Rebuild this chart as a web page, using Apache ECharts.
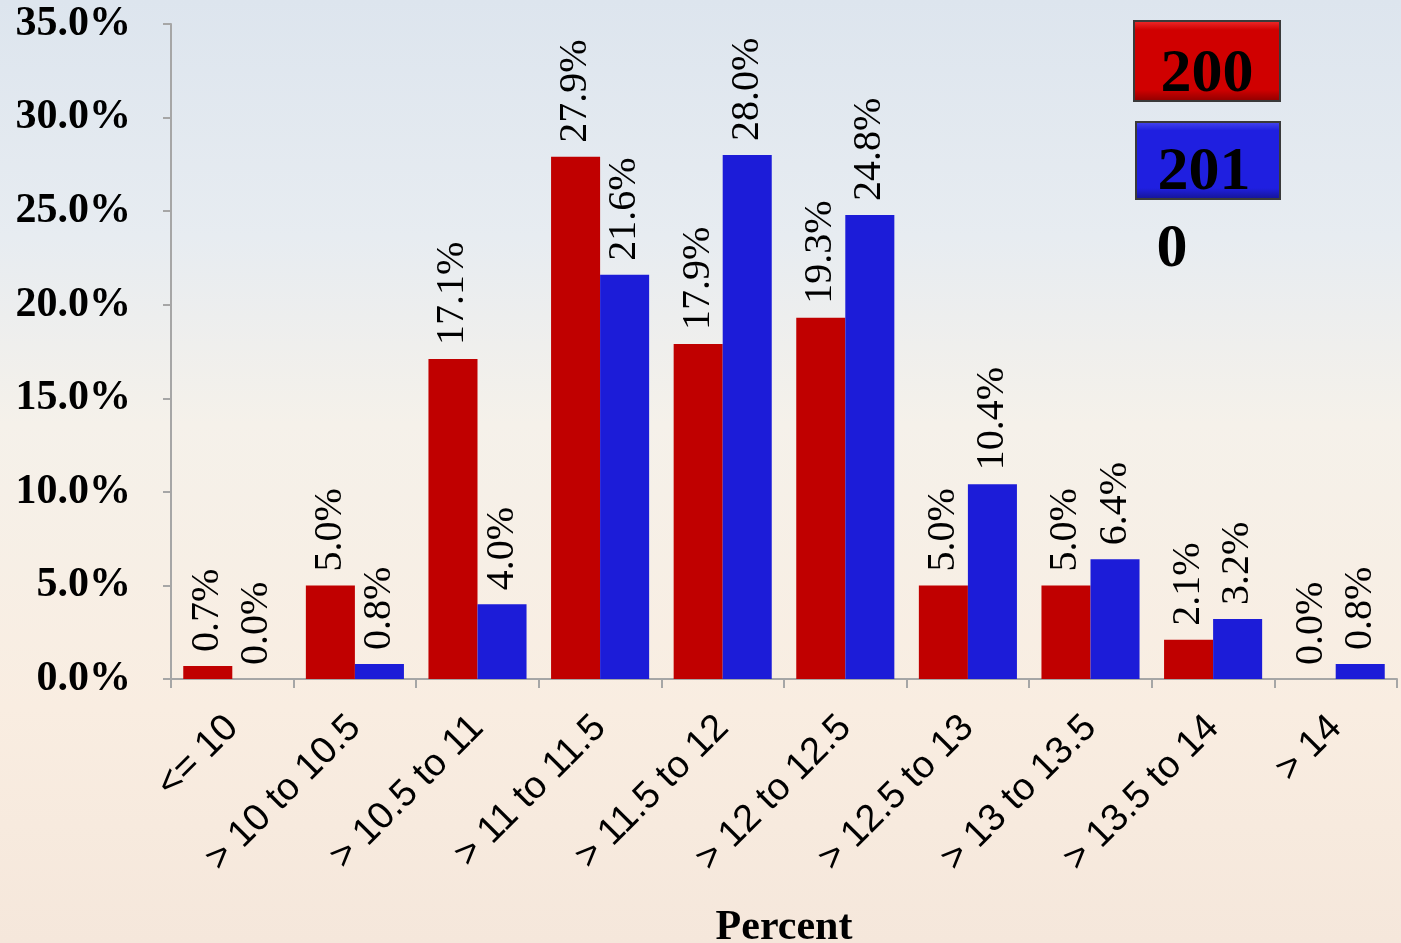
<!DOCTYPE html>
<html>
<head>
<meta charset="utf-8">
<script src="https://cdn.jsdelivr.net/npm/echarts@6/dist/echarts.min.js"></script>
<style>
html,body{margin:0;padding:0;}
#chart{width:1401px;height:943px;}
</style>
</head>
<body>
<div id="chart"></div>
<script>
const categories = ['<= 10', '> 10 to 10.5', '> 10.5 to 11', '> 11 to 11.5', '> 11.5 to 12', '> 12 to 12.5', '> 12.5 to 13', '> 13 to 13.5', '> 13.5 to 14', '> 14'];
const series2009 = [0.7, 5.0, 17.1, 27.9, 17.9, 19.3, 5.0, 5.0, 2.1, 0.0];
const series2010 = [0.0, 0.8, 4.0, 21.6, 28.0, 24.8, 10.4, 6.4, 3.2, 0.8];
const seriesNames = ['2009', '2010'];
const legendTexts = ['200', '201', '0'];
const axisTitle = 'Percent';

const serif = 'Liberation Serif';
const sans = 'Liberation Sans';

const chart = echarts.init(document.getElementById('chart'));

const labelCfg = {
  show: true,
  position: 'top',
  rotate: 90,
  align: 'left',
  verticalAlign: 'middle',
  distance: 14,
  color: '#000',
  fontFamily: serif,
  fontSize: 40,
  formatter: p => p.value.toFixed(1) + '%'
};

function bevelRect(x, y, w, h, base, light, dark) {
  return {
    type: 'rect',
    shape: { x: x, y: y, width: w, height: h },
    style: {
      fill: new echarts.graphic.LinearGradient(0, 0, 0, 1, [
        { offset: 0, color: light },
        { offset: 0.12, color: base },
        { offset: 0.85, color: base },
        { offset: 1, color: dark }
      ]),
      stroke: '#3a3a3a',
      lineWidth: 2
    },
    z: 10
  };
}

const option = {
  backgroundColor: new echarts.graphic.LinearGradient(0, 0, 0, 1, [
    { offset: 0, color: '#dde5ee' },
    { offset: 0.25, color: '#e7ecf1' },
    { offset: 0.45, color: '#f5f1ea' },
    { offset: 0.75, color: '#f9ede1' },
    { offset: 1, color: '#f5e7db' }
  ]),
  animation: false,
  grid: { left: 171, right: 4, top: 24, bottom: 264, containLabel: false, outerBoundsMode: 'none' },
  xAxis: {
    type: 'category',
    data: categories,
    name: axisTitle,
    nameLocation: 'middle',
    nameGap: 228,
    nameTextStyle: { fontFamily: serif, fontWeight: 'bold', fontSize: 42, color: '#000' },
    axisLine: { lineStyle: { color: '#a6a6a6', width: 2 } },
    axisTick: { show: true, alignWithLabel: false, length: 9, lineStyle: { color: '#a6a6a6', width: 2 } },
    axisLabel: {
      rotate: 45,
      interval: 0,
      margin: 43,
      color: '#000',
      fontFamily: sans,
      fontSize: 38
    }
  },
  yAxis: {
    type: 'value',
    min: 0,
    max: 35,
    interval: 5,
    splitLine: { show: false },
    axisLine: { show: true, lineStyle: { color: '#a6a6a6', width: 2 } },
    axisTick: { show: true, length: 8, lineStyle: { color: '#a6a6a6', width: 2 } },
    axisLabel: {
      margin: 40,
      color: '#000',
      fontFamily: serif,
      fontWeight: 'bold',
      fontSize: 42,
      formatter: v => v.toFixed(1) + '%'
    }
  },
  series: [
    {
      name: seriesNames[0],
      type: 'bar',
      data: series2009,
      barGap: '0%',
      barCategoryGap: '20%',
      itemStyle: { color: '#c00000' },
      label: labelCfg
    },
    {
      name: seriesNames[1],
      type: 'bar',
      data: series2010,
      barGap: '0%',
      barCategoryGap: '20%',
      itemStyle: { color: '#1c1cd8' },
      label: labelCfg
    }
  ],
  graphic: [
    bevelRect(1134, 21, 146, 80, '#d00000', '#f03030', '#8a0000'),
    bevelRect(1136, 122, 144, 77, '#1f1fe0', '#4a4af0', '#14148f'),
    {
      type: 'text', x: 1207, y: 75, z: 20,
      style: { text: legendTexts[0], fill: '#000', font: 'bold 62px "Liberation Serif"', textAlign: 'center', textVerticalAlign: 'middle' }
    },
    {
      type: 'text', x: 1204, y: 173, z: 20,
      style: { text: legendTexts[1], fill: '#000', font: 'bold 62px "Liberation Serif"', textAlign: 'center', textVerticalAlign: 'middle' }
    },
    {
      type: 'text', x: 1172, y: 250, z: 20,
      style: { text: legendTexts[2], fill: '#000', font: 'bold 62px "Liberation Serif"', textAlign: 'center', textVerticalAlign: 'middle' }
    }
  ]
};

chart.setOption(option);
</script>
</body>
</html>
